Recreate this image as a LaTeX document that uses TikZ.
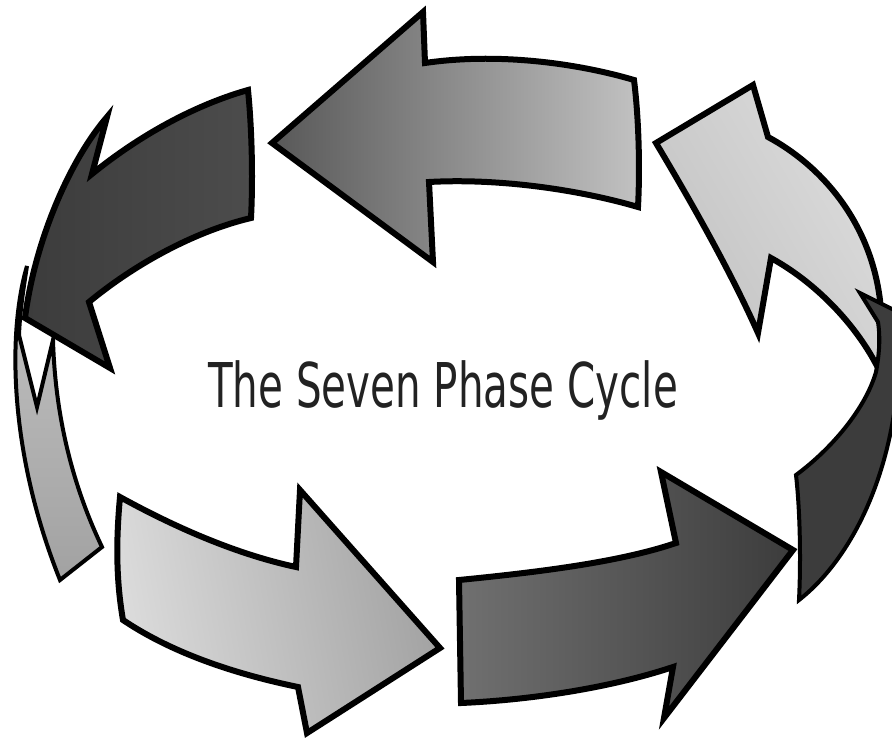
\documentclass[tikz,border=0pt]{standalone}
\usepackage{fontspec}
\setsansfont{DejaVu Sans}
\usepackage{graphicx}
\definecolor{dam}{HTML}{3C3C3C}
\definecolor{damnhat}{HTML}{4C4C4C}
\definecolor{xamdam}{HTML}{585858}
\definecolor{xamvua}{HTML}{707070}
\definecolor{xamnhat}{HTML}{A2A2A2}
\definecolor{bac}{HTML}{C2C2C2}
\definecolor{sang}{HTML}{DCDCDC}
\definecolor{chu}{HTML}{222222}

\begin{document}
\begin{tikzpicture}[x=1pt, y=-1pt, line join=miter, line cap=rect,
	ring arrow/.style={draw=black, line width=6pt},
	back arrow/.style={draw=black, line width=4pt}]
	
	% Khung
	\path[use as bounding box, fill=white] (0,0) rectangle (892,739);
	
	% Mũi tên trên cùng
	\draw[ring arrow, left color=xamdam, right color=bac] (272,143) -- (423,12) -- (425,63) .. controls (500,52) and (580,64) .. (634,80) .. controls (639,120) and (640,170) .. (638,207) .. controls (580,190) and (500,178) .. (429,182) -- (433,262) -- cycle;
	
	% Mũi tên bên trái (mặt sau)
	\draw[back arrow, top color=bac, bottom color=xamnhat] (27,266) .. controls (8,330) and (8,450) .. (60,580) -- (102,547) .. controls (70,480) and (55,410) .. (53,340) -- (37,407) -- (19,335) .. controls (20,310) and (24,285) .. cycle;
	
	% Mũi tên trên bên trái
	\draw[ring arrow, left color=dam, right color=damnhat] (25,318) .. controls (35,240) and (70,160) .. (107,117) -- (92,174) .. controls (140,135) and (195,105) .. (248,90) .. controls (252,130) and (253,180) .. (251,218) .. controls (200,230) and (140,260) .. (89,302) -- (110,368) -- cycle;
	
	% Mũi tên dưới bên trái
	\draw[ring arrow, left color=sang, right color=xamnhat, shading angle=100] (120,497) .. controls (180,530) and (240,555) .. (296,567) -- (300,490) -- (440,648) -- (307,733) -- (298,687) .. controls (240,675) and (175,655) .. (123,620) .. controls (116,580) and (116,540) .. cycle;
	
	% Mũi tên dưới bên phải
	\draw[ring arrow, left color=xamvua, right color=dam] (459,580) .. controls (540,572) and (620,562) .. (676,543) -- (661,472) -- (793,550) -- (664,718) -- (673,667) .. controls (610,688) and (530,700) .. (461,703) -- cycle;
	
	% Mũi tên trên bên phải (mặt sau)
	\draw[ring arrow, left color=bac, right color=sang, shading angle=120] (656,143) -- (753,85) -- (768,137) .. controls (820,165) and (870,220) .. (880,300) -- (880,372) .. controls (860,330) and (820,285) .. (771,258) -- (758,333) .. controls (730,270) and (690,200) .. cycle;
	
	% Mũi tên bên phải
	\draw[back arrow, fill=dam] (796,475) .. controls (830,450) and (865,410) .. (876,372) .. controls (880,350) and (880,335) .. (878,322) -- (860,293) -- (898,312) -- (898,380) .. controls (890,480) and (850,560) .. (799,600) .. controls (801,560) and (800,510) .. cycle;
	
	% Tiêu đề
	\node[font=\sffamily\fontsize{61.7}{74}\selectfont, text=chu, anchor=base, inner sep=0pt] (tieude) at (443,407) {\scalebox{0.655}[1]{The Seven Phase Cycle}};
\end{tikzpicture}
\end{document}
